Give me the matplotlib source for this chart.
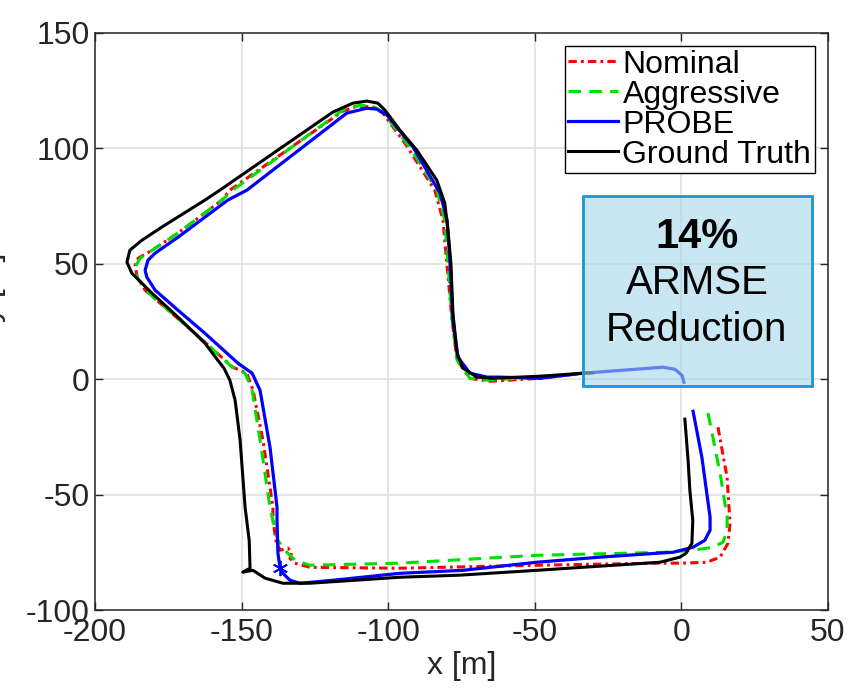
import matplotlib.pyplot as plt
from matplotlib.patches import Rectangle

plt.rcParams['font.family'] = ['Liberation Sans', 'DejaVu Sans']
plt.rcParams['lines.scale_dashes'] = False
plt.rcParams['axes.unicode_minus'] = False

# trajectories [m]
gt_x = [1.2, 2.3, 2.9, 3.9, 3.6, 1.6, -0.5, -7.3, -27.8, -49.3, -75.6, -96.0, -126.7, -135.9,
        -142.0, -146.1, -149.6, -147.1, -147.4, -148.8, -150.5, -152.2, -154.0, -156.0, -158.1,
        -162.5, -171.7, -180.6, -187.4, -189.1, -188.1, -184.0, -177.2, -162.5, -157.4, -118.9,
        -112.0, -107.3, -103.5, -101.1, -96.0, -90.2, -83.4, -80.7, -79.6, -78.6, -77.9, -76.5,
        -74.5, -69.7, -64.3, -48.3, -33.6, -30.0]
gt_y = [-17.3, -35.1, -48.1, -61.1, -71.1, -75.4, -77.1, -79.3, -81.0, -82.8, -84.9, -85.8, -88.4,
        -88.4, -86.2, -82.8, -83.6, -81.9, -69.8, -55.5, -26.4, -9.1, -0.4, 4.8, 8.2, 15.6, 26.9,
        37.3, 45.9, 50.7, 55.9, 60.2, 65.9, 77.6, 81.9, 115.7, 119.6, 120.5, 119.6, 116.6, 107.9,
        99.2, 86.2, 76.3, 64.6, 50.3, 28.6, 11.3, 4.8, 0.9, 0.4, 1.3, 2.6, 2.8]

probe_x = [4.0, 7.0, 9.8, 9.8, 8.0, 4.0, -2.9, -8.3, -27.8, -49.3, -74.5, -96.0, -118.8, -130.1,
           -133.5, -135.9, -136.9, -137.6, -137.9, -137.9, -140.3, -143.7, -146.4, -151.2, -162.5,
           -171.7, -179.5, -182.3, -182.9, -181.9, -179.5, -171.7, -154.7, -148.2, -114.1, -107.3,
           -103.8, -100.4, -91.5, -82.3, -79.9, -78.9, -77.9, -76.2, -72.1, -66.3, -61.9, -48.3,
           -33.6, -6.3, -2.2, 0.2, 0.9]
probe_y = [-13.9, -33.8, -59.8, -65.4, -69.8, -72.8, -75.0, -75.4, -77.1, -79.3, -82.8, -84.1,
           -87.1, -88.4, -87.1, -84.1, -81.5, -75.4, -61.1, -55.5, -29.5, -4.8, 2.6, 6.9, 19.9,
           29.9, 38.6, 44.2, 47.2, 51.6, 54.6, 61.5, 77.6, 81.9, 115.3, 117.4, 117.0, 114.4, 100.5,
           80.6, 68.9, 50.3, 25.6, 9.5, 2.6, 0.9, 0.9, 0.4, 2.6, 5.2, 4.3, 1.7, -1.3]

aggr_x = [9.1, 13.2, 15.6, 15.6, 14.2, 10.8, 4.0, -6.3, -49.3, -96.0, -126.7, -131.8, -135.2,
          -137.6, -139.3, -140.3, -143.7, -146.4, -148.8, -153.2, -165.9, -182.9, -185.6, -186.3,
          -184.6, -180.5, -171.7, -156.7, -153.0, -115.5, -109.7, -105.2, -101.8, -92.6, -83.4,
          -80.7, -79.6, -78.2, -76.5, -72.1, -66.3, -48.3, -33.6, -30.0]
aggr_y = [-14.7, -40.7, -59.8, -65.4, -70.6, -72.8, -74.1, -75.0, -76.3, -79.7, -80.6, -78.4,
          -74.1, -69.8, -61.1, -55.5, -26.4, -4.8, 2.6, 5.2, 19.9, 38.6, 44.2, 48.5, 52.4, 55.9,
          63.3, 77.6, 81.9, 116.6, 118.7, 118.3, 115.7, 100.5, 81.9, 68.9, 50.3, 25.6, 8.2, 0.4,
          -0.4, 0.9, 2.6, 2.8]

nom_x = [12.5, 15.6, 16.6, 15.9, 13.2, 8.7, 0.5, -8.3, -49.3, -96.0, -126.7, -131.8, -133.5,
         -132.8, -134.2, -136.9, -138.3, -139.3, -139.3, -142.7, -146.1, -148.2, -153.0, -165.9,
         -182.9, -185.6, -186.3, -185.3, -180.5, -171.7, -156.7, -154.0, -115.5, -110.7, -105.2,
         -101.8, -94.3, -84.1, -81.3, -80.0, -78.2, -76.5, -72.1, -65.3, -48.3, -33.6, -30.0]
nom_y = [-20.8, -42.5, -62.4, -71.1, -77.1, -79.3, -79.7, -79.7, -80.6, -81.9, -81.5, -79.7,
         -77.6, -75.0, -73.2, -74.1, -69.8, -61.1, -55.5, -26.4, -4.8, 2.6, 5.2, 19.9, 38.6, 44.2,
         49.4, 52.4, 55.9, 63.3, 77.6, 81.9, 116.1, 118.3, 117.9, 115.3, 102.3, 81.9, 68.9, 50.3,
         25.6, 8.2, 0.4, -0.9, 0.4, 2.6, 2.8]

start_x = [-136.9]
start_y = [-81.9]

fig = plt.figure(figsize=(8.51, 6.99), dpi=100)
ax = fig.add_axes([0.1116, 0.1273, 0.8613, 0.8255])

ax.plot(nom_x, nom_y, color='red', lw=2.2, dashes=(6, 3, 2, 3), label='Nominal')
ax.plot(aggr_x, aggr_y, color='#00e000', lw=2.2, dashes=(9, 6), label='Aggressive')
ax.plot(probe_x, probe_y, color='blue', lw=2.3, label='PROBE')
ax.plot(gt_x, gt_y, color='black', lw=2.2, label='Ground Truth')
ax.plot(start_x, start_y, color='blue', marker=(6, 2, 0), ms=11, mew=1.3, ls='none')

ax.set_xlim(-200, 50)
ax.set_ylim(-100, 150)
ax.set_xticks([-200, -150, -100, -50, 0, 50])
ax.set_yticks([-100, -50, 0, 50, 100, 150])
ax.grid(True, color='#dedede', lw=1.1)
ax.set_axisbelow(True)
ax.tick_params(direction='in', length=6, width=1, top=True, right=True,
               labelsize=23, colors='#262626')
ax.tick_params(axis='y', pad=4)
ax.tick_params(axis='x', pad=6)
for s in ax.spines.values():
    s.set_color('#262626')
    s.set_linewidth(1.1)

ax.set_xlabel('x [m]', fontsize=23, color='#262626', labelpad=2)
ax.set_ylabel('y [m]', fontsize=23, color='#262626')
ax.yaxis.set_label_coords(-0.121, 0.56)

leg = ax.legend(loc='upper right', fontsize=23, frameon=True, fancybox=False,
                framealpha=1, edgecolor='black', borderpad=0.1, labelspacing=0.0,
                handlelength=1.55, handletextpad=0.15, borderaxespad=0.42)
leg.get_frame().set_linewidth(1.0)

box = Rectangle((-33.6, -3.0), 78.1, 82.3, facecolor=(0.65, 0.84, 0.925, 0.6),
                edgecolor='#1a96d3', lw=2, zorder=5)
ax.add_patch(box)
ax.text(5.3, 61.5, '14%', fontsize=30, fontweight='bold', ha='center', va='center', zorder=6)
ax.text(5.3, 41.6, 'ARMSE', fontsize=29, ha='center', va='center', zorder=6)
ax.text(5.3, 21.2, 'Reduction', fontsize=29, ha='center', va='center', zorder=6)

fig.savefig('out.png', dpi=100)
